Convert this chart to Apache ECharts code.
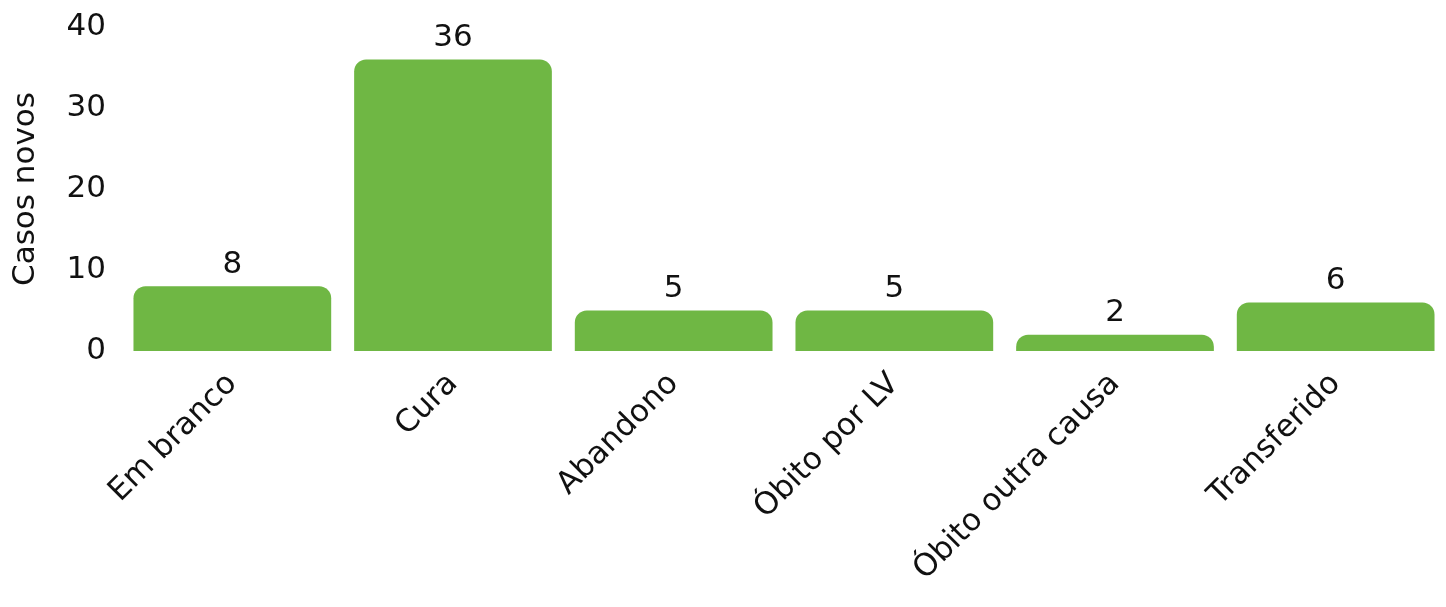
<!DOCTYPE html>
<html>
<head>
<meta charset="utf-8">
<script src="https://cdn.jsdelivr.net/npm/echarts@6/dist/echarts.min.js"></script>
<style>
html, body { margin: 0; padding: 0; background: #fff; }
#main { width: 1446px; height: 607px; }
</style>
</head>
<body>
<div id="main"></div>
<script>
// desfecho dos casos novos
var categorias = ['Em branco', 'Cura', 'Abandono', 'Óbito por LV', 'Óbito outra causa', 'Transferido'];
var casos = [8, 36, 5, 5, 2, 6];
var yTicks = [0, 10, 20, 30, 40];

var fonte = '"DejaVu Sans", sans-serif';

var chart = echarts.init(document.getElementById('main'));
var option = {
	animation: false,
	grid: {
		left: 122,
		right: 0,
		top: 27,
		bottom: 256,
		containLabel: false,
		outerBoundsMode: 'none'
	},
	xAxis: {
		type: 'category',
		data: categorias,
		axisLine: { show: false },
		axisTick: { show: false },
		axisLabel: {
			rotate: 45,
			margin: 28,
			interval: 0,
			color: '#111',
			fontSize: 31,
			fontFamily: fonte
		}
	},
	yAxis: {
		type: 'value',
		min: yTicks[0],
		max: yTicks[yTicks.length - 1],
		interval: 10,
		name: 'Casos novos',
		nameLocation: 'middle',
		nameGap: 81,
		nameTextStyle: {
			color: '#111',
			fontSize: 31,
			fontFamily: fonte
		},
		splitLine: { show: false },
		axisLine: { show: false },
		axisTick: { show: false },
		axisLabel: {
			margin: 16,
			color: '#111',
			fontSize: 31,
			fontFamily: fonte
		}
	},
	series: [{
		type: 'bar',
		data: casos,
		barCategoryGap: '10.4%',
		itemStyle: {
			color: '#6fb744',
			borderRadius: [12, 12, 0, 0]
		},
		label: {
			show: true,
			position: 'top',
			distance: 6,
			color: '#111',
			fontSize: 31,
			fontFamily: fonte
		}
	}]
};
chart.setOption(option);
</script>
</body>
</html>
